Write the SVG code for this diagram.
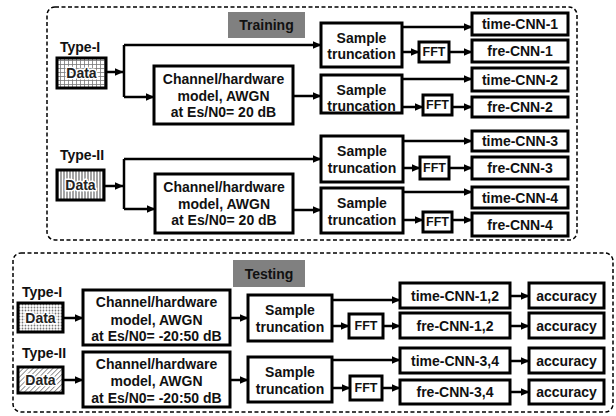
<svg xmlns="http://www.w3.org/2000/svg" width="616" height="416" viewBox="0 0 616 416">
  <defs>
    <style>
      text { font-family: "Liberation Sans", Arial, sans-serif; font-weight: bold; font-size: 14px; fill: #111; text-anchor: middle; dominant-baseline: central; }
      .lbl { text-anchor: start; }
      .fft { font-size: 12.5px; }
      .box { fill: #fff; stroke: #000; stroke-width: 3; }
      .tag { fill: #808080; stroke: none; }
      .frame { fill: none; stroke: #000; stroke-width: 1.5; stroke-dasharray: 4 2.5; }
      .data { stroke: #000; stroke-width: 3; }
      .halo { fill: #222; stroke: #fff; stroke-width: 3; stroke-linejoin: round; paint-order: stroke; }
      .wire { fill: none; stroke: #000; stroke-width: 2.5; }
      .arr { marker-end: url(#head); }
    </style>
    <marker id="head" markerWidth="9" markerHeight="8" refX="8.5" refY="4" orient="auto" markerUnits="userSpaceOnUse">
      <path d="M0,0 L9,4 L0,8 z" fill="#000"/>
    </marker>
    <!-- fill textures for the data blocks -->
    <pattern id="grid" width="4" height="4" patternUnits="userSpaceOnUse">
      <rect width="4" height="4" fill="#fff"/>
      <path d="M0,0.5 H4 M0.5,0 V4" stroke="#777" stroke-width="0.8"/>
    </pattern>
    <pattern id="vlines" width="3" height="3" patternUnits="userSpaceOnUse">
      <rect width="3" height="3" fill="#fff"/>
      <path d="M1,0 V3" stroke="#666" stroke-width="1.2"/>
    </pattern>
    <pattern id="dots" width="3" height="3" patternUnits="userSpaceOnUse">
      <rect width="3" height="3" fill="#fff"/>
      <circle cx="1.5" cy="1.5" r="0.9" fill="#777"/>
    </pattern>
    <pattern id="hatch" width="3.5" height="3.5" patternUnits="userSpaceOnUse" patternTransform="rotate(45)">
      <rect width="3.5" height="3.5" fill="#fff"/>
      <path d="M0,0 V3.5" stroke="#666" stroke-width="1.4"/>
    </pattern>
  </defs>

  <!-- stage frames -->
  <g id="training-frame">
    <rect class="frame" x="47" y="7" width="530" height="233" rx="8"/>
    <rect class="tag" x="228" y="12" width="77" height="26"/>
    <text x="266.5" y="25">Training</text>
  </g>
  <g id="testing-frame">
    <rect class="frame" x="13" y="253" width="600" height="159" rx="8"/>
    <rect class="tag" x="233" y="260" width="72" height="27"/>
    <text x="269" y="273.5">Testing</text>
  </g>

  <!-- connectors -->
  <g id="connectors">
    <!-- training, Type-I -->
    <path class="wire arr" d="M106,72 H123"/>
    <path class="wire" d="M124,97 V45"/>
    <path class="wire arr" d="M124,45 H321"/>
    <path class="wire arr" d="M124,97 H154"/>
    <path class="wire arr" d="M293,96 H321"/>
    <path class="wire arr" d="M402,27 H472"/>
    <path class="wire arr" d="M402,52 H419"/>
    <path class="wire arr" d="M449,52 H472"/>
    <path class="wire arr" d="M402,79 H472"/>
    <path class="wire arr" d="M402,107 H423"/>
    <path class="wire arr" d="M452,107 H472"/>
    <!-- training, Type-II -->
    <path class="wire arr" d="M104,186 H123"/>
    <path class="wire" d="M124,209 V159"/>
    <path class="wire arr" d="M124,159 H321"/>
    <path class="wire arr" d="M124,209 H155"/>
    <path class="wire arr" d="M293,210 H321"/>
    <path class="wire arr" d="M403,141 H472"/>
    <path class="wire arr" d="M403,168 H420"/>
    <path class="wire arr" d="M449,168 H472"/>
    <path class="wire arr" d="M403,192 H472"/>
    <path class="wire arr" d="M403,220 H423"/>
    <path class="wire arr" d="M452,220 H472"/>
    <!-- testing, Type-I -->
    <path class="wire arr" d="M63,318 H83"/>
    <path class="wire arr" d="M230,318 H248"/>
    <path class="wire arr" d="M332,300 H400"/>
    <path class="wire arr" d="M332,326 H349"/>
    <path class="wire arr" d="M383,326 H400"/>
    <path class="wire arr" d="M510,296 H529"/>
    <path class="wire arr" d="M510,326 H529"/>
    <!-- testing, Type-II -->
    <path class="wire arr" d="M63,380 H83"/>
    <path class="wire arr" d="M230,380 H248"/>
    <path class="wire arr" d="M332,360 H400"/>
    <path class="wire arr" d="M332,388 H350"/>
    <path class="wire arr" d="M382,388 H400"/>
    <path class="wire arr" d="M510,361 H529"/>
    <path class="wire arr" d="M510,392 H529"/>
  </g>

  <!-- training nodes -->
  <g id="train-data-1">
    <text class="lbl" x="60" y="47">Type-I</text>
    <rect class="data" x="57" y="58" width="49" height="30" fill="url(#grid)"/>
    <text class="halo" x="81.5" y="73">Data</text>
  </g>
  <g id="train-channel-1">
    <rect class="box" x="154" y="66" width="139" height="58"/>
    <text x="223.5" y="79">Channel/hardware</text>
    <text x="223.5" y="96">model, AWGN</text>
    <text x="223.5" y="112">at Es/N0= 20 dB</text>
  </g>
  <g id="train-trunc-1">
    <rect class="box" x="321" y="23" width="81" height="44"/>
    <text x="361.5" y="38">Sample</text>
    <text x="361.5" y="54">truncation</text>
  </g>
  <g id="train-fft-1">
    <rect class="box" x="419" y="42" width="30" height="20"/>
    <text class="fft" x="434" y="52">FFT</text>
  </g>
  <g id="time-cnn-1">
    <rect class="box" x="472" y="13" width="96" height="22"/>
    <text x="520" y="24">time-CNN-1</text>
  </g>
  <g id="fre-cnn-1">
    <rect class="box" x="472" y="40" width="96" height="22"/>
    <text x="520" y="51">fre-CNN-1</text>
  </g>
  <g id="train-trunc-2">
    <rect class="box" x="321" y="75" width="81" height="38"/>
    <text x="361.5" y="90">Sample</text>
    <text x="361.5" y="106">truncation</text>
  </g>
  <g id="train-fft-2">
    <rect class="box" x="423" y="95" width="29" height="20"/>
    <text class="fft" x="437.5" y="105">FFT</text>
  </g>
  <g id="time-cnn-2">
    <rect class="box" x="472" y="68" width="96" height="23"/>
    <text x="520" y="79.5">time-CNN-2</text>
  </g>
  <g id="fre-cnn-2">
    <rect class="box" x="472" y="97" width="96" height="20"/>
    <text x="520" y="107">fre-CNN-2</text>
  </g>

  <g id="train-data-2">
    <text class="lbl" x="60" y="155">Type-II</text>
    <rect class="data" x="57" y="170" width="47" height="30" fill="url(#vlines)"/>
    <text class="halo" x="80.5" y="185">Data</text>
  </g>
  <g id="train-channel-2">
    <rect class="box" x="155" y="174" width="138" height="59"/>
    <text x="224" y="187">Channel/hardware</text>
    <text x="224" y="204">model, AWGN</text>
    <text x="224" y="220">at Es/N0= 20 dB</text>
  </g>
  <g id="train-trunc-3">
    <rect class="box" x="321" y="136" width="82" height="46"/>
    <text x="362" y="151">Sample</text>
    <text x="362" y="168">truncation</text>
  </g>
  <g id="train-fft-3">
    <rect class="box" x="420" y="157" width="29" height="22"/>
    <text class="fft" x="434.5" y="168">FFT</text>
  </g>
  <g id="time-cnn-3">
    <rect class="box" x="472" y="131" width="96" height="20"/>
    <text x="520" y="141">time-CNN-3</text>
  </g>
  <g id="fre-cnn-3">
    <rect class="box" x="472" y="157" width="96" height="22"/>
    <text x="520" y="168">fre-CNN-3</text>
  </g>
  <g id="train-trunc-4">
    <rect class="box" x="321" y="188" width="82" height="45"/>
    <text x="362" y="203">Sample</text>
    <text x="362" y="220">truncation</text>
  </g>
  <g id="train-fft-4">
    <rect class="box" x="423" y="212" width="29" height="20"/>
    <text class="fft" x="437.5" y="222">FFT</text>
  </g>
  <g id="time-cnn-4">
    <rect class="box" x="472" y="187" width="96" height="21"/>
    <text x="520" y="197.5">time-CNN-4</text>
  </g>
  <g id="fre-cnn-4">
    <rect class="box" x="472" y="213" width="96" height="23"/>
    <text x="520" y="224.5">fre-CNN-4</text>
  </g>

  <!-- testing nodes -->
  <g id="test-data-1">
    <text class="lbl" x="22" y="292">Type-I</text>
    <rect class="data" x="18" y="303" width="45" height="29" fill="url(#dots)"/>
    <text class="halo" x="40.5" y="317.5">Data</text>
  </g>
  <g id="test-channel-1">
    <rect class="box" x="83" y="290" width="147" height="55"/>
    <text x="156.5" y="302">Channel/hardware</text>
    <text x="156.5" y="320">model, AWGN</text>
    <text x="156.5" y="336">at Es/N0= -20:50 dB</text>
  </g>
  <g id="test-trunc-1">
    <rect class="box" x="248" y="295" width="84" height="46"/>
    <text x="290" y="310">Sample</text>
    <text x="290" y="327">truncation</text>
  </g>
  <g id="test-fft-1">
    <rect class="box" x="349" y="314" width="34" height="24"/>
    <text class="fft" x="366" y="326">FFT</text>
  </g>
  <g id="time-cnn-12">
    <rect class="box" x="400" y="283" width="110" height="25"/>
    <text x="455" y="295.5">time-CNN-1,2</text>
  </g>
  <g id="fre-cnn-12">
    <rect class="box" x="400" y="313" width="110" height="25"/>
    <text x="455" y="325.5">fre-CNN-1,2</text>
  </g>
  <g id="acc-1">
    <rect class="box" x="529" y="283" width="75" height="25"/>
    <text x="566.5" y="295.5">accuracy</text>
  </g>
  <g id="acc-2">
    <rect class="box" x="529" y="313" width="75" height="25"/>
    <text x="566.5" y="325.5">accuracy</text>
  </g>

  <g id="test-data-2">
    <text class="lbl" x="22" y="353">Type-II</text>
    <rect class="data" x="18" y="367" width="45" height="26" fill="url(#hatch)"/>
    <text class="halo" x="40.5" y="380">Data</text>
  </g>
  <g id="test-channel-2">
    <rect class="box" x="83" y="352" width="147" height="55"/>
    <text x="156.5" y="364">Channel/hardware</text>
    <text x="156.5" y="381">model, AWGN</text>
    <text x="156.5" y="398">at Es/N0= -20:50 dB</text>
  </g>
  <g id="test-trunc-2">
    <rect class="box" x="248" y="357" width="84" height="45"/>
    <text x="290" y="372">Sample</text>
    <text x="290" y="389">truncation</text>
  </g>
  <g id="test-fft-2">
    <rect class="box" x="350" y="376" width="32" height="24"/>
    <text class="fft" x="366" y="388">FFT</text>
  </g>
  <g id="time-cnn-34">
    <rect class="box" x="400" y="348" width="110" height="25"/>
    <text x="455" y="360.5">time-CNN-3,4</text>
  </g>
  <g id="fre-cnn-34">
    <rect class="box" x="400" y="380" width="110" height="24"/>
    <text x="455" y="392">fre-CNN-3,4</text>
  </g>
  <g id="acc-3">
    <rect class="box" x="529" y="348" width="75" height="25"/>
    <text x="566.5" y="360.5">accuracy</text>
  </g>
  <g id="acc-4">
    <rect class="box" x="529" y="380" width="75" height="24"/>
    <text x="566.5" y="392">accuracy</text>
  </g>
</svg>
